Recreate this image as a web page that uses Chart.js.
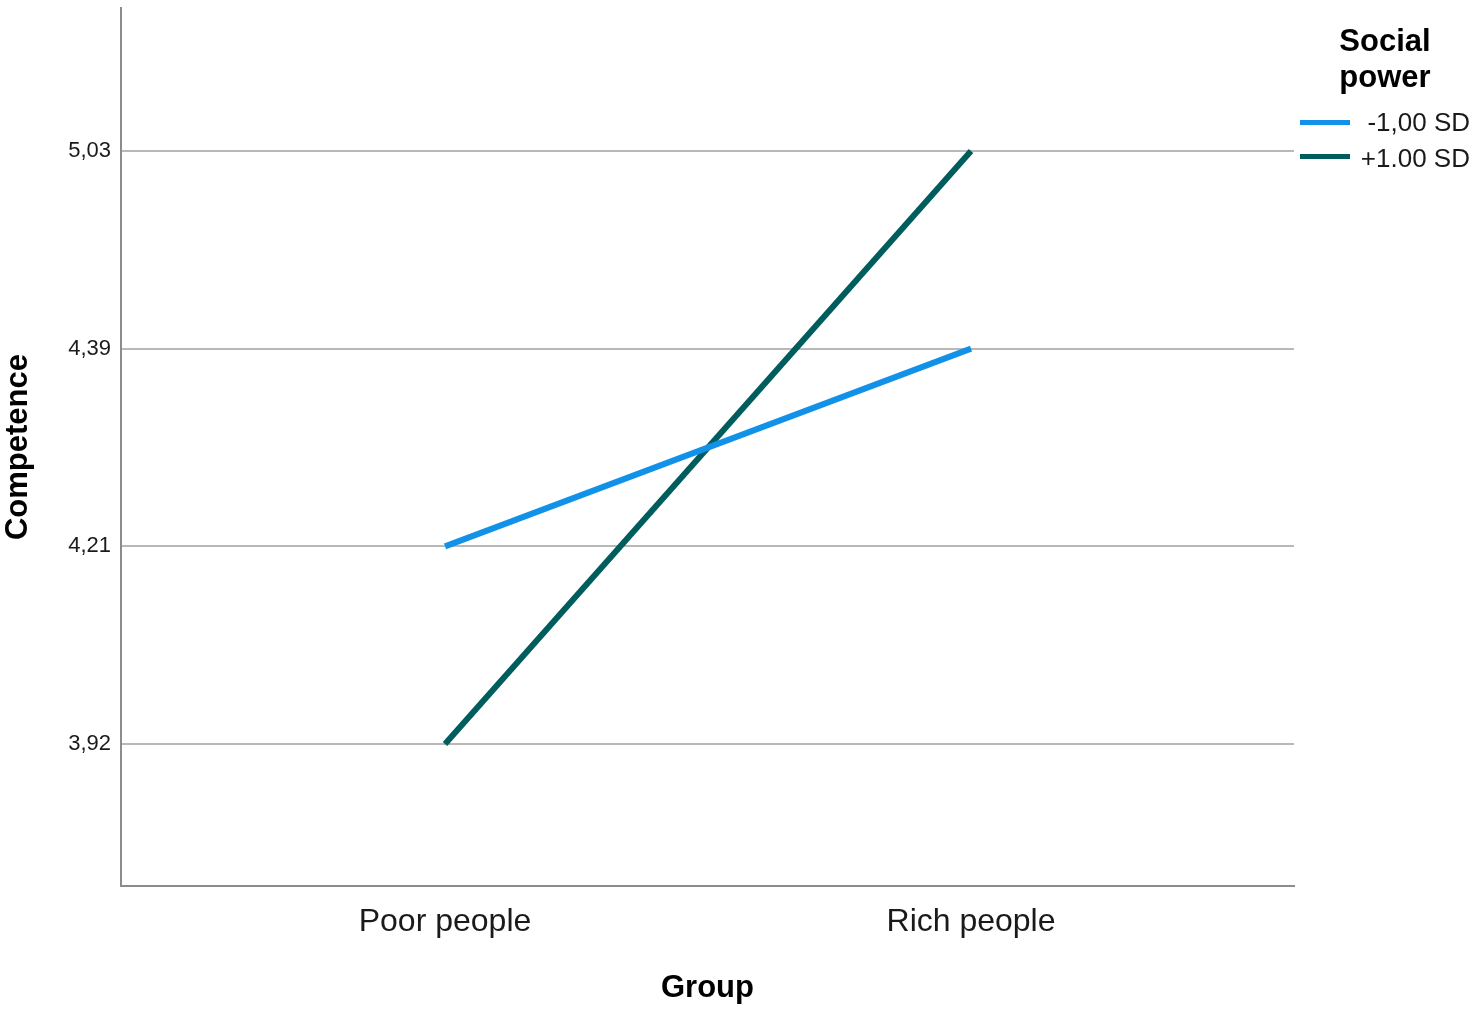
<!DOCTYPE html>
<html>
<head>
<meta charset="utf-8">
<script src="https://cdn.jsdelivr.net/npm/chart.js@4"></script>
<style>
  body { margin: 0; background: #fff; font-family: "Liberation Sans", Arial, sans-serif; }
  #wrap { position: relative; width: 1477px; height: 1013px; }
  #legend { position: absolute; left: 0; top: 0; }
  .lg-title { position: absolute; left: 1320px; width: 130px; top: 23px; text-align: center;
              font-weight: bold; font-size: 31px; line-height: 36px; color: #000; }
  .lg-item { position: absolute; left: 1300px; width: 170px; height: 30px; }
  .lg-swatch { position: absolute; left: 0; width: 50px; height: 5px; }
  .lg-text { position: absolute; right: 0; top: 0; font-size: 26px; line-height: 30px; color: #1a1a1a; }
</style>
</head>
<body>
<div id="wrap">
  <canvas id="chart" width="1477" height="1013"></canvas>
  <div id="legend"></div>
</div>
<script>
// data
const groups = ['Poor people', 'Rich people'];
const tickValues = [3.92, 4.21, 4.39, 5.03];
const tickLabels = ['3,92', '4,21', '4,39', '5,03'];
const seriesNames = ['-1,00 SD', '+1.00 SD'];
const lowPower = [4.21, 4.39];
const highPower = [3.92, 5.03];
const seriesColors = ['#1192e8', '#005d5d'];

// SPSS places the tick values evenly, so the axis works on tick rank
function rank(v) {
    return tickValues.indexOf(v);
}

function toPoints(values) {
    return values.map((v, i) => ({ x: i, y: rank(v) }));
}

const ctx = document.getElementById('chart').getContext('2d');

new Chart(ctx, {
    type: 'line',
    data: {
        datasets: [
            {
                label: seriesNames[0],
                data: toPoints(lowPower),
                borderColor: seriesColors[0],
                borderWidth: 6,
                borderCapStyle: 'butt',
                pointRadius: 0,
                tension: 0
            },
            {
                label: seriesNames[1],
                data: toPoints(highPower),
                borderColor: seriesColors[1],
                borderWidth: 6,
                borderCapStyle: 'butt',
                pointRadius: 0,
                tension: 0
            }
        ]
    },
    options: {
        responsive: false,
        animation: false,
        layout: { padding: { left: 0, right: 183, top: 8, bottom: 0 } },
        plugins: {
            legend: { display: false },
            tooltip: { enabled: false }
        },
        scales: {
            x: {
                type: 'linear',
                min: -0.616,
                max: 1.614,
                afterBuildTicks: scale => {
                    scale.ticks = groups.map((g, i) => ({ value: i }));
                },
                afterFit: scale => { scale.height = 127; },
                grid: { display: false, drawTicks: false },
                border: { display: true, color: '#8c8c8c', width: 2 },
                ticks: {
                    padding: 17,
                    color: '#1a1a1a',
                    font: { family: 'Liberation Sans', size: 32 },
                    callback: value => groups[value]
                },
                title: {
                    display: true,
                    text: 'Group',
                    color: '#000',
                    font: { family: 'Liberation Sans', size: 31, weight: 'bold' },
                    padding: { top: 0, bottom: 6 }
                }
            },
            y: {
                type: 'linear',
                min: -0.718,
                max: 3.723,
                afterBuildTicks: scale => {
                    scale.ticks = tickLabels.map((t, i) => ({ value: i }));
                },
                afterFit: scale => {
                    scale.width = 121;
                    scale.paddingTop = 0;
                    scale.paddingBottom = 0;
                },
                grid: { color: '#b8b8b8', lineWidth: 2, drawTicks: false },
                border: { display: true, color: '#8c8c8c', width: 2 },
                ticks: {
                    padding: 10,
                    color: '#1a1a1a',
                    font: { family: 'Liberation Sans', size: 22 },
                    callback: value => tickLabels[value]
                },
                title: {
                    display: true,
                    text: 'Competence',
                    color: '#000',
                    font: { family: 'Liberation Sans', size: 31, weight: 'bold' },
                    padding: { top: 0, bottom: 0 }
                }
            }
        }
    }
});

// legend drawn as html next to the plot
const legend = document.getElementById('legend');
legend.innerHTML = '<div class="lg-title">Social<br>power</div>';
const itemTops = [107, 143];
seriesNames.forEach((name, i) => {
    const item = document.createElement('div');
    item.className = 'lg-item';
    item.style.top = itemTops[i] + 'px';
    item.innerHTML = '<div class="lg-swatch" style="top:' + (i === 0 ? 13 : 11) + 'px;background:' +
        seriesColors[i] + '"></div><div class="lg-text">' + name + '</div>';
    legend.appendChild(item);
});
</script>
</body>
</html>
